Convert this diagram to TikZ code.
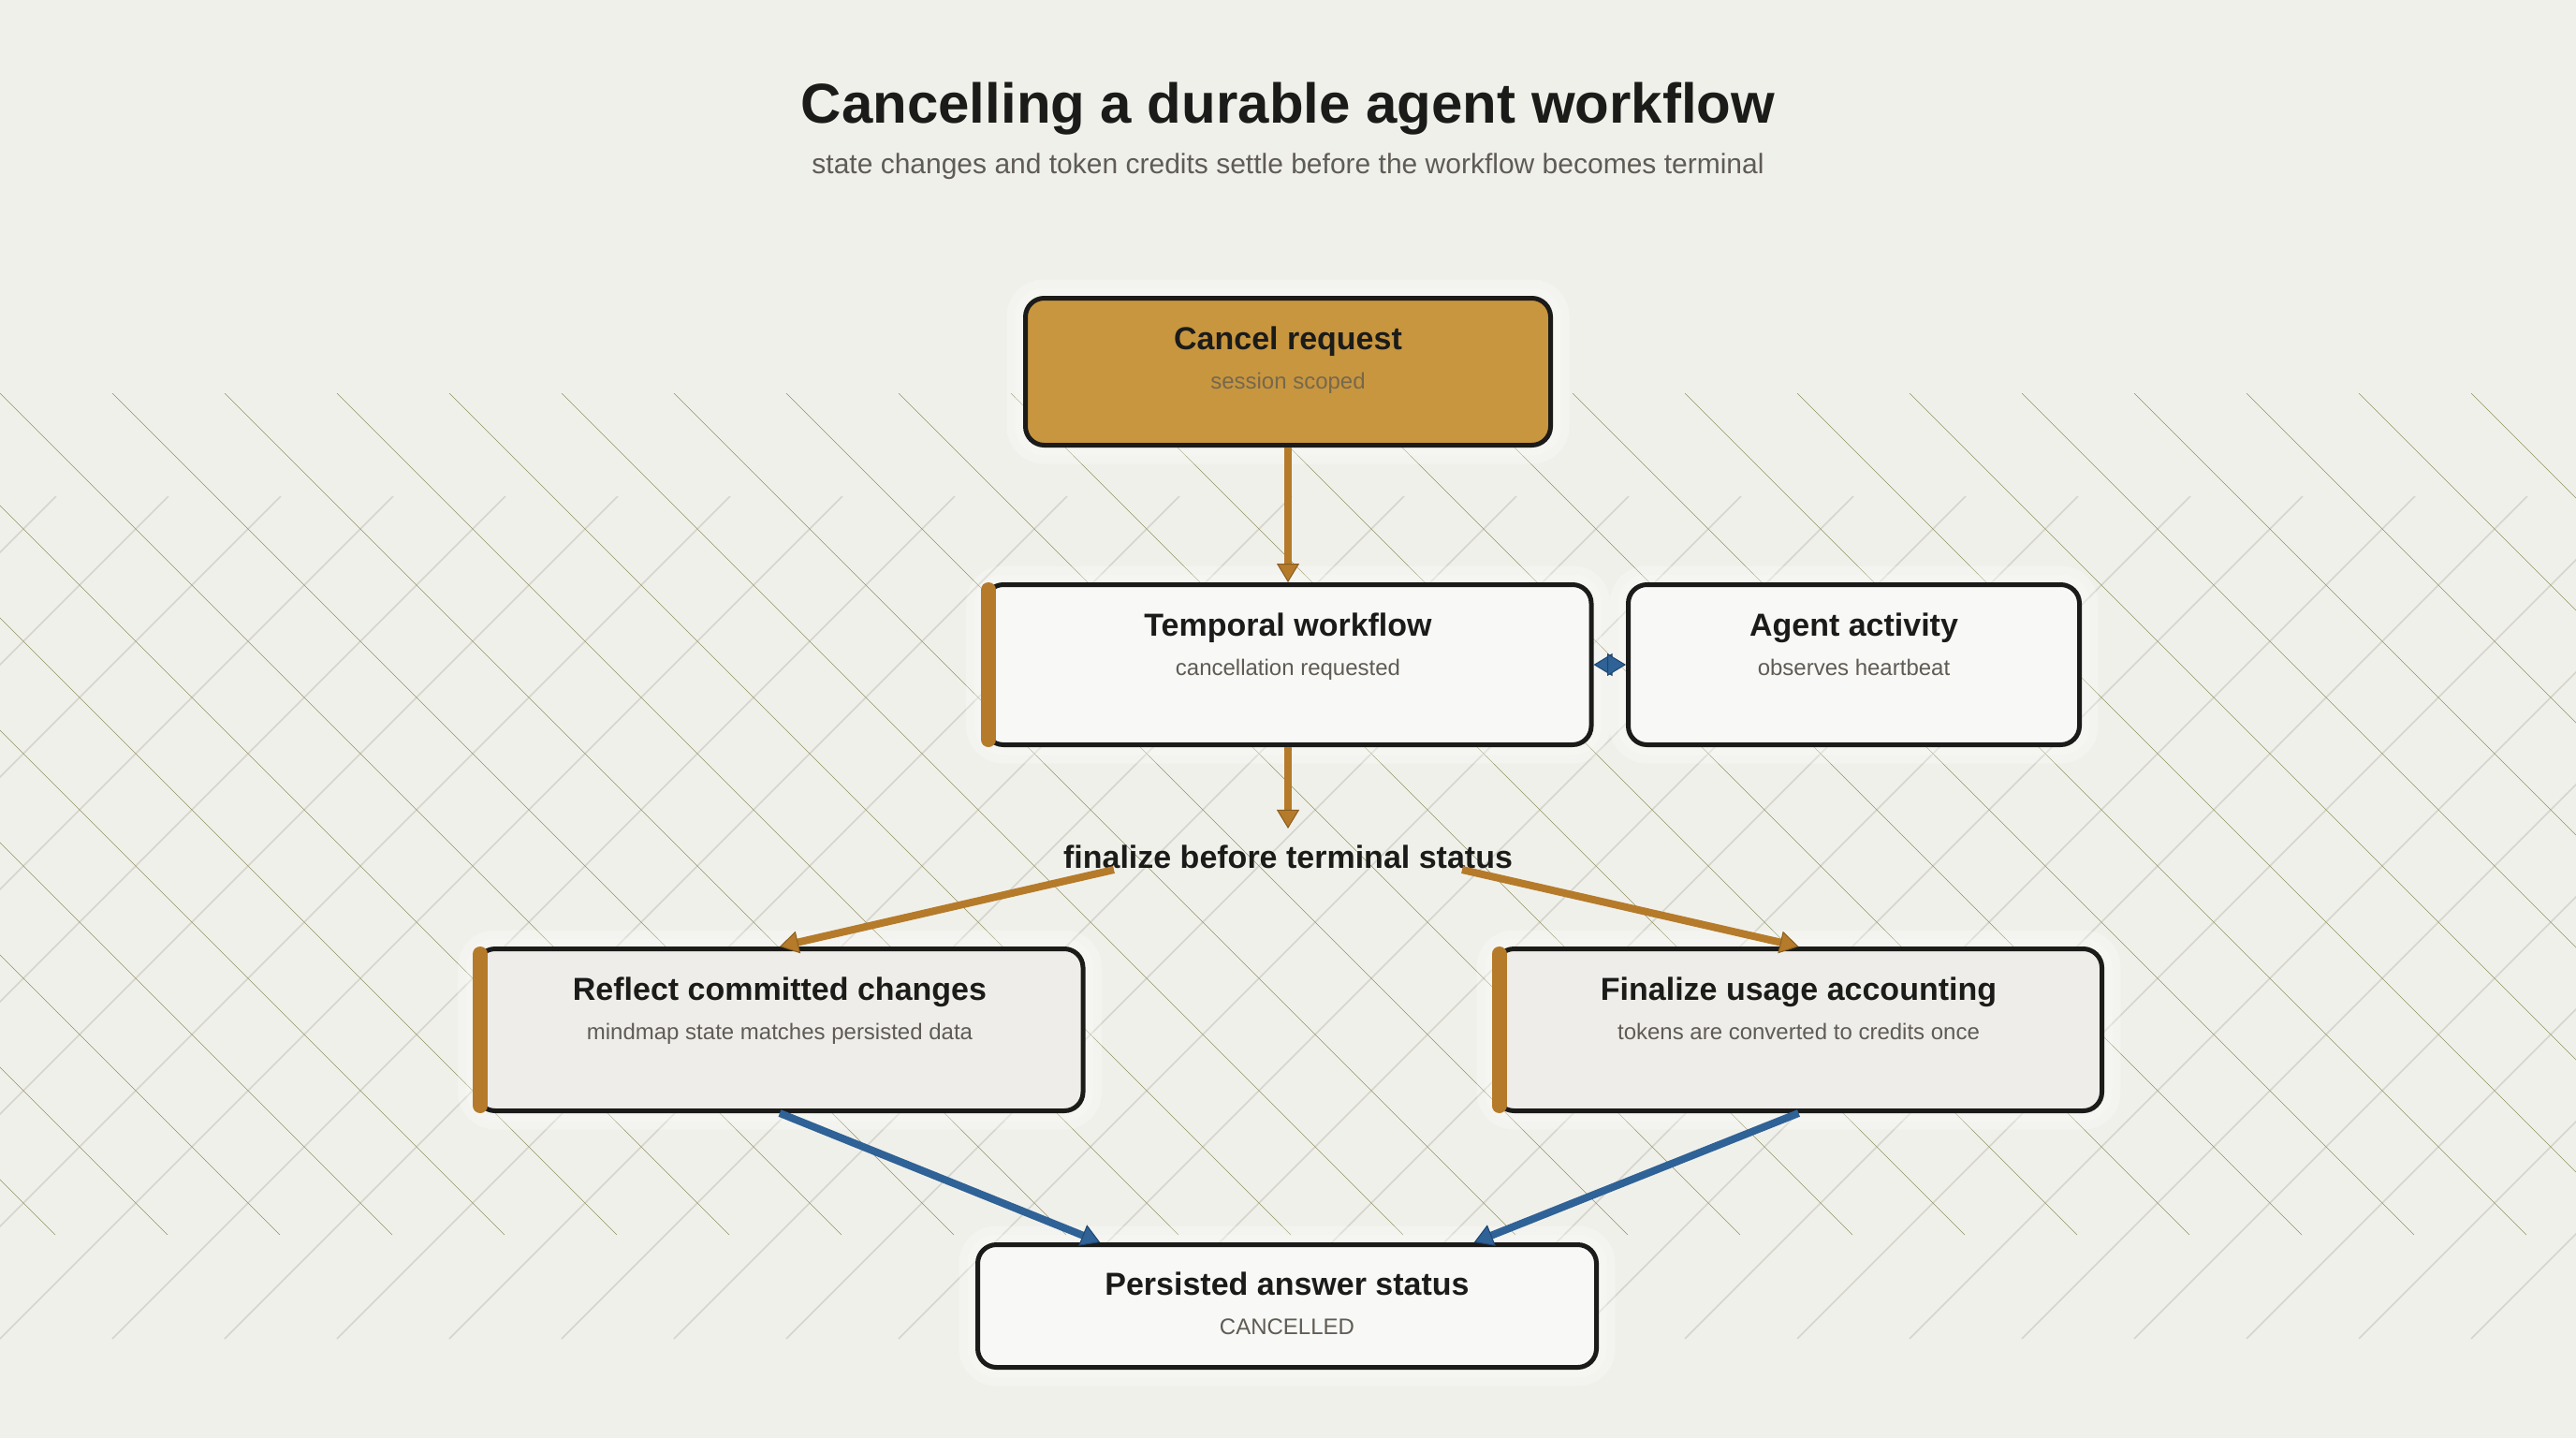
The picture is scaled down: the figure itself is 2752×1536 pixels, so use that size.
\documentclass[tikz,border=0pt]{standalone}
\usepackage{fontspec}
\setmainfont{Liberation Sans}
\usetikzlibrary{arrows.meta,calc}
\definecolor{bgc}{HTML}{F0F0EB}
\definecolor{hatchA}{HTML}{93935F}
\definecolor{hatchB}{HTML}{D5D5CD}
\definecolor{goldF}{HTML}{C8963F}
\definecolor{goldL}{HTML}{B57B2A}
\definecolor{goldD}{HTML}{8A5E20}
\definecolor{blueL}{HTML}{2F6296}
\definecolor{blueD}{HTML}{1F4670}
\definecolor{ink}{HTML}{1B1B19}
\definecolor{subc}{HTML}{5F5B55}
\definecolor{subg}{HTML}{76684C}
\definecolor{boxW}{HTML}{F8F8F6}
\definecolor{boxG}{HTML}{EEEDE9}
\begin{document}
\begin{tikzpicture}[x=0.5pt,y=-0.5pt,
  glow/.style={preaction={draw=white,opacity=0.22,line width=20pt},
               preaction={draw=white,opacity=0.22,line width=11pt}},
  box/.style={draw=ink, line width=2.5pt, rounded corners=10pt, glow, inner sep=0pt},
  ttl/.style={anchor=base, inner sep=0pt, font=\bfseries\fontsize{17}{20}\selectfont, text=ink},
  sub/.style={anchor=base, inner sep=0pt, font=\fontsize{12}{14}\selectfont, text=subc},
  bar/.style={draw=goldL, line width=8pt, line cap=round, shorten <=4pt, shorten >=4pt},
  garrow/.style={draw=goldL, line width=4pt,
     -{Triangle[width=12pt,length=10pt,fill=goldL,color=goldD,line width=0.5pt]}},
  barrow/.style={draw=blueL, line width=4pt,
     -{Triangle[width=12pt,length=10pt,fill=blueL,color=blueD,line width=0.5pt]}},
  bboth/.style={draw=blueL, line width=4pt,
     {Triangle[width=12pt,length=10pt,fill=blueL,color=blueD,line width=0.5pt]}-{Triangle[width=12pt,length=10pt,fill=blueL,color=blueD,line width=0.5pt]}}
]
\useasboundingbox (0,0) rectangle (2752,1536);
\fill[bgc] (0,0) rectangle (2752,1536);
% hatch
\begin{scope}
\clip (0,530) rectangle (2752,1430);
\foreach \k in {-1,...,31} \draw[hatchB, line width=0.75pt] ({60+120*\k},530) -- ++(-900,900);
\end{scope}
\begin{scope}
\clip (0,420) rectangle (2752,1319);
\foreach \k in {-8,...,23} \draw[hatchA, line width=0.3pt] ({120*\k},420) -- ++(899,899);
\end{scope}
% titles
\node[anchor=base, inner sep=0pt, font=\bfseries\fontsize{30}{36}\selectfont, text=ink] (title) at (1376,132) {Cancelling a durable agent workflow};
\node[anchor=base, inner sep=0pt, font=\fontsize{15}{18}\selectfont, text=subc] (subtitle) at (1376,185) {state changes and token credits settle before the workflow becomes terminal};
% boxes
\node[box, fill=goldF, minimum width=280.5pt, minimum height=78.5pt] (cancel) at (1376,397) {};
\node[box, fill=boxW, minimum width=324pt, minimum height=85.5pt] (temporal) at (1376,710) {};
\node[box, fill=boxW, minimum width=241pt, minimum height=85.5pt] (agent) at (1980.5,710) {};
\node[box, fill=boxG, minimum width=324pt, minimum height=86.5pt] (reflect) at (833,1100) {};
\node[box, fill=boxG, minimum width=324pt, minimum height=86.5pt] (finalize) at (1921.5,1100) {};
\node[box, fill=boxW, minimum width=330.5pt, minimum height=65.5pt] (persisted) at (1375,1395) {};
% accent bars
\draw[bar] ($(temporal.north west)+(6.5,0)$) -- ($(temporal.south west)+(6.5,0)$);
\draw[bar] ($(reflect.north west)+(6.5,0)$) -- ($(reflect.south west)+(6.5,0)$);
\draw[bar] ($(finalize.north west)+(6.5,0)$) -- ($(finalize.south west)+(6.5,0)$);
% texts
\node[ttl] (cancelT) at ($(cancel.north)+(0,57)$) {Cancel request};
\node[sub, text=subg] (cancelS) at ($(cancel.north)+(0,99)$) {session scoped};
\node[ttl] (temporalT) at ($(temporal.north)+(0,57)$) {Temporal workflow};
\node[sub] (temporalS) at ($(temporal.north)+(0,99)$) {cancellation requested};
\node[ttl] (agentT) at ($(agent.north)+(0,57)$) {Agent activity};
\node[sub] (agentS) at ($(agent.north)+(0,99)$) {observes heartbeat};
\node[ttl] (reflectT) at ($(reflect.north)+(0,57)$) {Reflect committed changes};
\node[sub] (reflectS) at ($(reflect.north)+(0,99)$) {mindmap state matches persisted data};
\node[ttl] (finalizeT) at ($(finalize.north)+(0,57)$) {Finalize usage accounting};
\node[sub] (finalizeS) at ($(finalize.north)+(0,99)$) {tokens are converted to credits once};
\node[ttl] (persistedT) at ($(persisted.north)+(0,56)$) {Persisted answer status};
\node[sub] (persistedS) at ($(persisted.north)+(0,98)$) {CANCELLED};
% split label
\node[anchor=base, inner xsep=0pt, inner ysep=8.5pt, font=\bfseries\fontsize{17}{20}\selectfont, text=ink] (label) at (1376,927) {finalize before terminal status};
\coordinate (fsl) at (1190,929);
\coordinate (fsr) at (1562,929);
% connectors
\draw[garrow] (cancel.south) -- (temporal.north);
\draw[garrow] (temporal.south) -- (label.north);
\draw[garrow] (fsl) -- (reflect.north);
\draw[garrow] (fsr) -- (finalize.north);
\draw[barrow] (reflect.south) -- ($(persisted.north west)!0.2!(persisted.north east)$);
\draw[barrow] (finalize.south) -- ($(persisted.north west)!0.8!(persisted.north east)$);
\draw[bboth] (temporal.east) -- (agent.west);
\end{tikzpicture}
\end{document}
